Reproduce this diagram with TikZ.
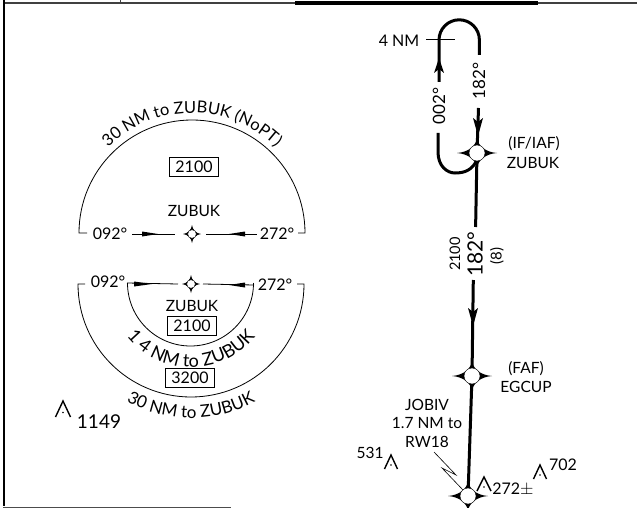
\documentclass[tikz,border=0pt]{standalone}
\usepackage{fontspec}
\setmainfont{Lato}
\usetikzlibrary{decorations.text}
\tikzset{
  x=1pt,y=-1pt,
  lab/.style={font=\fontsize{#1}{#1}\selectfont,inner sep=0pt,align=center},
  lab/.default=15,
  track/.style={line width=3pt,line cap=butt},
  thinl/.style={line width=0.8pt},
  minbox/.style={draw,line width=0.7pt,inner sep=0pt,minimum width=49pt,minimum height=19pt,font=\fontsize{16}{16}\selectfont},
}
% fix symbol: centre, tip length horizontal, tip length vertical, circle radius
\newcommand{\fixsym}[4]{%
  \fill[black,shift={(#1)}] (0,-#3) .. controls (#4*.1,-#4) and (#4,-#4*.1) .. (#2,0)
   .. controls (#4,#4*.1) and (#4*.1,#4) .. (0,#3)
   .. controls (-#4*.1,#4) and (-#4,#4*.1) .. (-#2,0)
   .. controls (-#4,-#4*.1) and (-#4*.1,-#4) .. (0,-#3) -- cycle;
  \draw[black,line width=0.4pt,fill=white,shift={(#1)}] (0,0) circle (#4);
}
% obstacle symbol: apex, half width, height
\newcommand{\obst}[3]{%
  \draw[line width=1.4pt,line join=miter,shift={(#1)}] (-#2,#3) -- (0,0) -- (#2,#3);
  \fill[shift={(#1)}] (0,#3*0.72) circle (0.9);
}
\begin{document}
\begin{tikzpicture}
\useasboundingbox (0,0) rectangle (637,508);
\fill[white] (0,0) rectangle (637,508);
% frame
\draw[line width=1.2pt,black!75] (3,3) -- (637,3);
\draw[line width=4pt] (295,3) -- (538,3);
\draw[line width=2pt] (3.7,0) -- (3.7,506);
\draw[line width=1pt,black!70] (3,507) -- (231,507);
\draw[line width=0.8pt,black!75] (120,0) -- (120,3);

% right track
\coordinate (iaf) at (477,153);
\coordinate (faf) at (472,376);
\coordinate (map) at (468,496);
\draw[track] (439,82) -- (439,40) arc[start angle=180,end angle=360,radius=20.2] -- (479.4,55);
\draw[track] (478.5,108) -- (477,153);
\draw[track] (438,133) -- (438,152) .. controls (438,166) and (447,173) .. (455,173) .. controls (465,173) and (472,170) .. (477,160);
\draw[track] (477,153) -- (475.6,227);
\draw[track] (473.3,280) -- (472,376);
\draw[track] (472,376) -- (468,496);
\coordinate (tickL) at (426,39);
\coordinate (tickR) at (455,39);
\node[lab=16] (fourlab) at (399,41) {4 NM};
\draw[line width=0.7pt] (tickL) -- (tickR);
% arrows on track
\fill (439,58) -- (444,73) -- (439,69) -- (434,73) -- cycle;
\fill (478,136) -- (473,118) -- (478,122) -- (483,118) -- cycle;
\fill (473,326) -- (468,308) -- (473,312) -- (478,308) -- cycle;
\fixsym{iaf}{20}{15}{8}
\fixsym{faf}{20}{15}{8}
\fixsym{map}{20}{15}{8}
\node[lab=17,rotate=90] (a002) at (439,106) {002°};
\node[lab=17,rotate=90] (a182) at (479,81) {182°};
\node[lab=15.5] (iaflab) at (534,144) {(IF/IAF)};
\node[lab=15.5] (iafz) at (533,163) {ZUBUK};
\node[lab=15.5] (faflab) at (526,369) {(FAF)};
\node[lab=15.5] (fafe) at (526,387) {EGCUP};
\node[lab=14.5,rotate=90] (alt2) at (455,254) {2100};
\node[lab=21,rotate=90] (c182) at (475,254) {182°};
\node[lab=15,rotate=90] (d8) at (497,256) {(8)};
\node[lab=15.5] (job) at (427,405) {JOBIV};
\node[lab=15.5] (job2) at (427,423) {1.7 NM to};
\node[lab=15.5] (job3) at (427,442) {RW18};
\draw[line width=0.6pt] (434,452) -- (456,475) -- (442,468) -- (463,490);
\obst{391,455}{6.5}{14}
\node[lab=15.5] (l531) at (370,453) {531};
\obst{484,477}{7}{14}
\node[lab=16] (l272) at (513,489) {272$\pm$};
\obst{540,465}{6.5}{14}
\node[lab=16] (l702) at (563,465) {702};

% top sector
\coordinate (c1) at (192,234);
\coordinate (a1) at (192,233);
\draw[thinl] (87,233) -- (79,233) arc[start angle=180,end angle=360,radius=113] -- (298,233);
\node[lab=16] (w1) at (110,234) {092°};
\node[lab=16] (e1) at (277,234) {272°};
\node[lab=15.5] (z1) at (194,211) {ZUBUK};
\node[minbox] (b1) at (194,167) {2100};
\draw[thinl] (132,234) -- (175,234);
\draw[thinl] (206,234) -- (257,234);
\fill (142,231.5) -- (158,234) -- (142,236.5) -- cycle;
\fill (245,231.5) -- (229,234) -- (245,236.5) -- cycle;
\fixsym{c1}{9}{9}{4.3}
\path[decorate,decoration={text along path,text align=center,text={|\fontsize{16.5}{16.5}\selectfont|30 NM to ZUBUK (NoPT)}}]
  (a1) ++(222:120) arc[start angle=222,end angle=318,radius=120];

% bottom sector
\coordinate (c2) at (191,284);
\coordinate (a2) at (191,284);
\draw[thinl] (85,284) -- (78,284) arc[start angle=180,end angle=0,radius=113] -- (297,284);
\draw[thinl] (127.5,283) arc[start angle=180,end angle=0,radius=63];
\node[lab=16] (w2) at (108,282) {092°};
\node[lab=16] (e2) at (275,285) {272°};
\draw[thinl] (127,283) -- (178,284);
\draw[thinl] (203,284) -- (254,285);
\fill (134,281.5) -- (152,284) -- (134,286.5) -- cycle;
\fill (245,282.5) -- (229,285) -- (245,287.5) -- cycle;
\fixsym{c2}{9}{9}{4.3}
\node[lab=15.5] (z2) at (192,306) {ZUBUK};
\node[minbox] (b2) at (192,326) {2100};
\node[minbox] (b3) at (190,378) {3200};
\path[decorate,decoration={text along path,text align=center,text={|\fontsize{18}{18}\selectfont|1 4 NM to ZUBUK}}]
  (a2) ++(150:83) arc[start angle=150,end angle=30,radius=83];
\path[decorate,decoration={text along path,text align=center,text={|\fontsize{17}{17}\selectfont|30 NM to ZUBUK}}]
  (a2) ++(125:134) arc[start angle=125,end angle=55,radius=134];
\obst{63,401}{7.5}{16}
\node[lab=19] (l1149) at (99,422) {1149};
\end{tikzpicture}
\end{document}
